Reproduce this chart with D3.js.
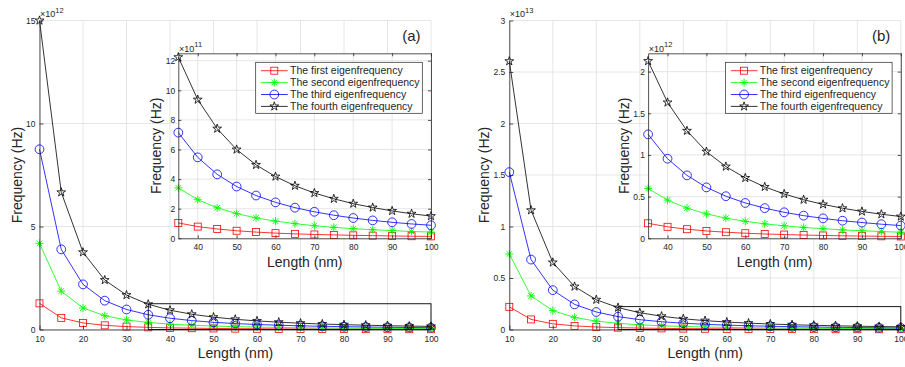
<!DOCTYPE html>
<html>
<head>
<meta charset="utf-8">
<script src="https://cdn.jsdelivr.net/npm/d3@7"></script>
<style>
body { margin: 0; background: #fff; }
text { font-family: "Liberation Sans", Arial, Helvetica, sans-serif; fill: #262626; }
</style>
</head>
<body>
<div class="chart"></div>
<script>
// lengths (nm)
var lengths = [10, 15, 20, 25, 30, 35, 40, 45, 50, 55, 60, 65, 70, 75, 80, 85, 90, 95, 100];

// panel (a), frequency in x10^12 Hz
var firstA  = [1.27, 0.565, 0.318, 0.203, 0.141, 0.104, 0.079, 0.063, 0.051, 0.042, 0.035, 0.030, 0.026, 0.023, 0.020, 0.018, 0.016, 0.014, 0.013];
var secondA = [4.18, 1.86, 1.045, 0.669, 0.464, 0.341, 0.261, 0.206, 0.167, 0.138, 0.116, 0.099, 0.085, 0.074, 0.065, 0.058, 0.052, 0.046, 0.042];
var thirdA  = [8.75, 3.89, 2.19, 1.40, 0.972, 0.714, 0.547, 0.432, 0.350, 0.289, 0.243, 0.207, 0.179, 0.156, 0.137, 0.121, 0.108, 0.097, 0.088];
var fourthA = [15.0, 6.66, 3.75, 2.40, 1.67, 1.224, 0.937, 0.741, 0.600, 0.496, 0.417, 0.355, 0.306, 0.267, 0.234, 0.208, 0.185, 0.166, 0.150];

// panel (b), frequency in x10^13 Hz
var firstB  = [0.220, 0.098, 0.055, 0.035, 0.0244, 0.0180, 0.0138, 0.0109, 0.0088, 0.0073, 0.0061, 0.0052, 0.0045, 0.0039, 0.0034, 0.0030, 0.0027, 0.0024, 0.0022];
var secondB = [0.733, 0.326, 0.183, 0.117, 0.0814, 0.0598, 0.0458, 0.0362, 0.0293, 0.0242, 0.0204, 0.0173, 0.0150, 0.0130, 0.0115, 0.0101, 0.0090, 0.0081, 0.0073];
var thirdB  = [1.528, 0.679, 0.382, 0.244, 0.170, 0.1247, 0.0955, 0.0755, 0.0611, 0.0505, 0.0424, 0.0362, 0.0312, 0.0272, 0.0239, 0.0211, 0.0189, 0.0169, 0.0153];
var fourthB = [2.605, 1.158, 0.651, 0.417, 0.289, 0.2127, 0.163, 0.129, 0.104, 0.0861, 0.0724, 0.0617, 0.0532, 0.0463, 0.0407, 0.0361, 0.0322, 0.0289, 0.0261];

var seriesNames = ["The first eigenfrequency", "The second eigenfrequency", "The third eigenfrequency", "The fourth eigenfrequency"];

// tick values
var mainXTicks = [10, 20, 30, 40, 50, 60, 70, 80, 90, 100];
var insetXTicks = [40, 50, 60, 70, 80, 90, 100];
var mainYTicksA = [0, 5, 10, 15];
var insetYTicksA = [0, 2, 4, 6, 8, 10, 12];
var mainYTicksB = [0, 0.5, 1, 1.5, 2, 2.5, 3];
var insetYTicksB = [0, 0.5, 1, 1.5, 2];

var colors = ["#ff0000", "#00ff00", "#0000ff", "#000000"];
var markers = ["square", "asterisk", "circle", "star"];
var axisColor = "#262626";
var gridColor = "#dfdfdf";

var svg = d3.select(".chart").append("svg")
  .attr("width", 905)
  .attr("height", 367);

//draw a single marker at the origin of group g
function drawMarker(g, type, color) {
  if (type === "square") {
    g.append("rect").attr("x", -3.5).attr("y", -3.5).attr("width", 7).attr("height", 7)
      .attr("fill", "none").attr("stroke", color).attr("stroke-width", 0.8);
  } else if (type === "circle") {
    g.append("circle").attr("r", 4.4)
      .attr("fill", "none").attr("stroke", color).attr("stroke-width", 0.8);
  } else if (type === "asterisk") {
    g.append("path").attr("d", "M-4,0H4M0,-4V4M-2.8,-2.8L2.8,2.8M-2.8,2.8L2.8,-2.8")
      .attr("fill", "none").attr("stroke", color).attr("stroke-width", 0.9);
  } else {
    g.append("path").attr("d", d3.symbol().type(d3.symbolStar).size(24)())
      .attr("fill", "none").attr("stroke", color).attr("stroke-width", 0.8);
  }
}

//draw lines + markers for all series into group g
function drawSeries(g, series, xs, ys, factor, startIdx) {
  series.forEach(function(vals, i) {
    var pts = lengths.map((L, j) => [L, vals[j] * factor]).slice(startIdx);
    var line = d3.line().x(d => xs(d[0])).y(d => ys(d[1]));
    g.append("path").attr("d", line(pts))
      .attr("fill", "none").attr("stroke", colors[i]).attr("stroke-width", 0.8);
    pts.forEach(function(p) {
      var m = g.append("g").attr("transform", `translate(${xs(p[0])},${ys(p[1])})`);
      drawMarker(m, markers[i], colors[i]);
    });
  });
}

function drawGrid(g, xs, ys, xt, yt) {
  var x0 = xs.range()[0], x1 = xs.range()[1], y0 = ys.range()[0], y1 = ys.range()[1];
  xt.forEach(function(t) {
    g.append("line").attr("x1", xs(t)).attr("x2", xs(t)).attr("y1", y0).attr("y2", y1)
      .attr("stroke", gridColor).attr("stroke-width", 0.8);
  });
  yt.forEach(function(t) {
    g.append("line").attr("x1", x0).attr("x2", x1).attr("y1", ys(t)).attr("y2", ys(t))
      .attr("stroke", gridColor).attr("stroke-width", 0.8);
  });
}

function styleAxis(ax) {
  ax.selectAll("path").attr("stroke", axisColor).attr("stroke-width", 0.8);
  ax.selectAll("line").attr("stroke", axisColor).attr("stroke-width", 0.8);
  ax.selectAll("text").attr("font-size", 8.5).attr("fill", axisColor)
    .style("font-family", "'Liberation Sans', Arial, sans-serif");
}

function expLabel(x, y, exp) {
  var t = svg.append("text").attr("x", x).attr("y", y).attr("font-size", 9);
  t.append("tspan").text("\u00d710");
  t.append("tspan").attr("dy", -4.5).attr("font-size", 7.5).text(exp);
}

function drawPanel(cfg) {
  var series = cfg.series;

  //main axes scales
  var x = d3.scaleLinear().domain([10, 100]).range([cfg.mainLeft, cfg.mainLeft + 391.5]);
  var y = d3.scaleLinear().domain([0, cfg.mainTop]).range([329.5, 20.5]);

  var main = svg.append("g");
  drawGrid(main, x, y, mainXTicks, cfg.mainYTicks);
  drawSeries(main, series, x, y, 1, 0);

  var xAxis = main.append("g").attr("transform", "translate(0,329.5)")
    .call(d3.axisBottom(x).tickValues(mainXTicks).tickSize(-4).tickSizeOuter(0).tickPadding(6));
  var yAxis = main.append("g").attr("transform", `translate(${cfg.mainLeft},0)`)
    .call(d3.axisLeft(y).tickValues(cfg.mainYTicks).tickSize(-4).tickSizeOuter(0).tickPadding(4)
      .tickFormat(d3.format("~g")));
  styleAxis(xAxis);
  styleAxis(yAxis);

  //zoom rectangle
  main.append("rect")
    .attr("x", x(35)).attr("y", y(cfg.insetTop / cfg.factor))
    .attr("width", x(100) - x(35)).attr("height", y(0) - y(cfg.insetTop / cfg.factor))
    .attr("fill", "none").attr("stroke", "#000").attr("stroke-width", 0.9);

  main.append("text").attr("transform", `translate(${cfg.ylabelX},175) rotate(-90)`)
    .attr("text-anchor", "middle").attr("font-size", 14).text("Frequency (Hz)");
  main.append("text").attr("x", cfg.mainLeft + 196).attr("y", 357.5)
    .attr("text-anchor", "middle").attr("font-size", 14).text("Length (nm)");
  expLabel(cfg.mainLeft + 0.5, 17, cfg.mainExp);

  main.append("text").attr("x", cfg.mainLeft + 381).attr("y", 40.5)
    .attr("text-anchor", "end").attr("font-size", 15).text(cfg.tag);

  //inset axes
  var ix = d3.scaleLinear().domain([35, 100]).range([cfg.mainLeft + 138.8, cfg.mainLeft + 391.5]);
  var iy = d3.scaleLinear().domain([0, cfg.insetTop]).range([238.3, 53.3]);
  var inset = svg.append("g");
  inset.append("rect").attr("x", ix(35)).attr("y", 53.3)
    .attr("width", ix(100) - ix(35)).attr("height", 185).attr("fill", "#fff");
  drawGrid(inset, ix, iy, insetXTicks, cfg.insetYTicks);
  drawSeries(inset, series, ix, iy, cfg.factor, 5);

  var ixAxis = inset.append("g").attr("transform", "translate(0,238.3)")
    .call(d3.axisBottom(ix).tickValues(insetXTicks).tickSize(-3).tickSizeOuter(0).tickPadding(6));
  var iyAxis = inset.append("g").attr("transform", `translate(${ix(35)},0)`)
    .call(d3.axisLeft(iy).tickValues(cfg.insetYTicks).tickSize(-3).tickSizeOuter(0).tickPadding(3)
      .tickFormat(d3.format("~g")));
  var itAxis = inset.append("g").attr("transform", "translate(0,53.3)")
    .call(d3.axisTop(ix).tickValues(insetXTicks).tickSize(-3).tickSizeOuter(0).tickFormat(""));
  var irAxis = inset.append("g").attr("transform", `translate(${ix(100)},0)`)
    .call(d3.axisRight(iy).tickValues(cfg.insetYTicks).tickSize(-3).tickSizeOuter(0).tickFormat(""));
  [ixAxis, iyAxis, itAxis, irAxis].forEach(styleAxis);

  inset.append("text").attr("transform", `translate(${cfg.insetYlabelX},145.8) rotate(-90)`)
    .attr("text-anchor", "middle").attr("font-size", 14).text("Frequency (Hz)");
  inset.append("text").attr("x", ix(35) + 126.5).attr("y", 266.5)
    .attr("text-anchor", "middle").attr("font-size", 14).text("Length (nm)");
  expLabel(ix(35) + 0.7, 51.5, cfg.insetExp);

  //legend
  var lx = cfg.mainLeft + 216.2;
  var legend = svg.append("g").attr("transform", `translate(${lx},62.3)`);
  legend.append("rect").attr("width", 166.6).attr("height", 51)
    .attr("fill", "#fff").attr("stroke", axisColor).attr("stroke-width", 0.7);
  seriesNames.forEach(function(name, i) {
    var ry = 8.4 + i * 11.9;
    legend.append("line").attr("x1", 5.3).attr("x2", 32).attr("y1", ry).attr("y2", ry)
      .attr("stroke", colors[i]).attr("stroke-width", 0.8);
    var m = legend.append("g").attr("transform", `translate(18.6,${ry})`);
    drawMarker(m, markers[i], colors[i]);
    legend.append("text").attr("x", 34.3).attr("y", ry).attr("dy", "0.35em")
      .attr("font-size", 10.5).text(name);
  });
}

drawPanel({
  series: [firstA, secondA, thirdA, fourthA],
  mainLeft: 39.5, mainTop: 15, mainYTicks: mainYTicksA, mainExp: "12",
  insetTop: 12.5, insetYTicks: insetYTicksA, insetExp: "11", factor: 10,
  ylabelX: 22, insetYlabelX: 160.5, tag: "(a)"
});

drawPanel({
  series: [firstB, secondB, thirdB, fourthB],
  mainLeft: 509.3, mainTop: 3, mainYTicks: mainYTicksB, mainExp: "13",
  insetTop: 2.22, insetYTicks: insetYTicksB, insetExp: "12", factor: 10,
  ylabelX: 489, insetYlabelX: 629, tag: "(b)"
});
</script>
</body>
</html>
